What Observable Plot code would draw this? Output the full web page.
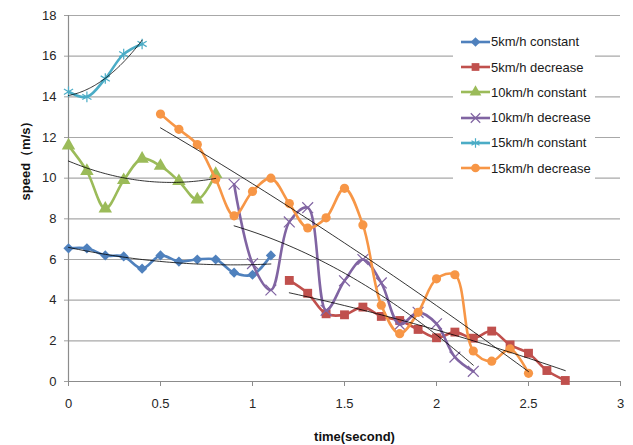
<!DOCTYPE html>
<html><head><meta charset="utf-8">
<script src="https://cdn.jsdelivr.net/npm/d3@7"></script>
<script src="https://cdn.jsdelivr.net/npm/@observablehq/plot@0.6"></script>
<style>
body{margin:0;background:#fff;}
#wrap{position:relative;width:633px;height:445px;font-family:"Liberation Sans",Arial,sans-serif;overflow:hidden;}
#legend{position:absolute;left:453px;top:26px;width:142px;height:157px;background:#fff;}
.row{position:absolute;left:0;height:20px;display:flex;align-items:center;font-size:13px;color:#1a1a1a;white-space:nowrap;}
.row svg{display:block;flex:none;}
</style></head><body><div id="wrap"><div id="legend"></div></div>
<script>
// ---- data ----
const seriesNames = ["5km/h constant","5km/h decrease","10km/h constant","10km/h decrease","15km/h constant","15km/h decrease"];
const seriesColors = ["#4F81BD","#C0504D","#9BBB59","#8064A2","#4BACC6","#F79646"];
const seriesSymbols = ["diamond2","square","triangle","times","asterisk","circle"];

const time5c  = [0,0.1,0.2,0.3,0.4,0.5,0.6,0.7,0.8,0.9,1.0,1.1];
const speed5c = [6.55,6.55,6.2,6.15,5.55,6.2,5.9,6.0,6.0,5.35,5.25,6.2];

const time5d  = [1.2,1.3,1.4,1.5,1.6,1.7,1.8,1.9,2.0,2.1,2.2,2.3,2.4,2.5,2.6,2.7];
const speed5d = [4.97,4.34,3.33,3.28,3.66,3.2,3.0,2.56,2.15,2.43,2.13,2.48,1.8,1.39,0.54,0.05];

const time10c  = [0,0.1,0.2,0.3,0.4,0.5,0.6,0.7,0.8];
const speed10c = [11.6,10.35,8.5,9.9,10.95,10.6,9.85,8.95,10.2];

const time10d  = [0.9,1.0,1.1,1.2,1.3,1.4,1.5,1.6,1.7,1.8,1.9,2.0,2.1,2.2];
const speed10d = [9.7,5.8,4.5,7.85,8.55,3.5,4.95,6.0,4.85,2.8,3.4,2.84,1.2,0.5];

const time15c  = [0,0.1,0.2,0.3,0.4];
const speed15c = [14.25,14.0,14.9,16.1,16.6];

const time15d  = [0.5,0.6,0.7,0.8,0.9,1.0,1.1,1.2,1.3,1.4,1.5,1.6,1.7,1.8,1.9,2.0,2.1,2.2,2.3,2.4,2.5];
const speed15d = [13.15,12.4,11.65,9.95,8.15,9.35,10.0,8.75,7.55,8.05,9.5,7.7,3.75,2.35,3.4,5.05,5.25,1.5,1.0,1.6,0.4];

const xTicks = [0,0.5,1,1.5,2,2.5,3];
const yTicks = [0,2,4,6,8,10,12,14,16,18];
const xLabel = "time(second)";
const yLabel = "speed（m/s）";

// ---- build tables ----
const times = [time5c,time5d,time10c,time10d,time15c,time15d];
const speeds = [speed5c,speed5d,speed10c,speed10d,speed15c,speed15d];
const tables = seriesNames.map((name,i)=>times[i].map((t,j)=>({series:name,t,v:speeds[i][j]})));

// quadratic least-squares trendline (like Excel's polynomial order 2)
function quadFit(xs, ys){
  const mx = d3.mean(xs);
  let s = [0,0,0,0,0], r = [0,0,0];
  xs.forEach((x,i)=>{const u=x-mx; let p=1; for(let k=0;k<5;k++){s[k]+=p; if(k<3) r[k]+=p*ys[i]; p*=u;}});
  const A = [[s[0],s[1],s[2]],[s[1],s[2],s[3]],[s[2],s[3],s[4]]];
  const det = m => m[0][0]*(m[1][1]*m[2][2]-m[1][2]*m[2][1]) - m[0][1]*(m[1][0]*m[2][2]-m[1][2]*m[2][0]) + m[0][2]*(m[1][0]*m[2][1]-m[1][1]*m[2][0]);
  const D = det(A);
  const c = [0,1,2].map(k=>det(A.map((row,i)=>row.map((v,j)=>j===k?r[i]:v)))/D);
  const [x0,x1] = d3.extent(xs);
  return d3.range(0,61).map(k=>{const x=x0+(x1-x0)*k/60, u=x-mx; return {t:x, v:c[0]+c[1]*u+c[2]*u*u};});
}
const trends = times.map((ts,i)=>quadFit(ts,speeds[i]));

const strokeSymbols = new Set(["times","asterisk"]);
const marks = [
  Plot.gridY(yTicks.filter(d=>d>0), {stroke:"#a8a8a8", strokeOpacity:1, strokeWidth:1.2}),
  Plot.axisY(yTicks, {tickSize:4, tickPadding:8, stroke:"#a0a0a0", fill:"#262626", fontSize:13, label:null}),
  Plot.axisX(xTicks, {tickSize:5, tickPadding:12, stroke:"#8c8c8c", fill:"#262626", fontSize:13, label:null, tickFormat: d=>String(d)}),
  Plot.ruleX([0], {stroke:"#8c8c8c", strokeWidth:1.2}),
  Plot.ruleY([0], {stroke:"#8c8c8c", strokeWidth:1.2}),
];
tables.forEach((tb,i)=>{
  marks.push(Plot.line(tb, {x:"t", y:"v", stroke:seriesColors[i], strokeWidth:2.6, curve:"catmull-rom"}));
  const sym = seriesSymbols[i];
  const r = sym==="square" ? 5 : sym==="triangle" ? 5 : 4.6;
  if (strokeSymbols.has(sym)) marks.push(Plot.dot(tb, {x:"t", y:"v", symbol:()=>sym, r:5, stroke:seriesColors[i], strokeWidth:1.2, fill:"none"}));
  else marks.push(Plot.dot(tb, {x:"t", y:"v", symbol:()=>sym, r, fill:seriesColors[i], stroke:"none"}));
});
trends.forEach(tr=>marks.push(Plot.line(tr, {x:"t", y:"v", stroke:"#000", strokeWidth:0.8})));
marks.push(Plot.text([xLabel], {frameAnchor:"bottom", dy:55, dx:10, fontWeight:"bold", fontSize:13, fill:"#111", lineAnchor:"middle"}));
marks.push(Plot.text([yLabel], {frameAnchor:"left", dx:-43, dy:2, rotate:-90, fontWeight:"bold", fontSize:13, fill:"#111", lineAnchor:"middle"}));

const chart = Plot.plot({
  width:633, height:445,
  marginLeft:68, marginRight:13, marginTop:15, marginBottom:64,
  x:{domain:[0,3]}, y:{domain:[0,18]},
  style:{fontFamily:"Liberation Sans, Arial, sans-serif", fontSize:"13px", background:"white", overflow:"visible"},
  marks
});
const wrap = document.getElementById("wrap");
wrap.insertBefore(chart, wrap.firstChild);

// ---- legend ----
const symMap = {diamond2:d3.symbolDiamond2, square:d3.symbolSquare, triangle:d3.symbolTriangle, times:d3.symbolTimes, asterisk:d3.symbolAsterisk, circle:d3.symbolCircle};
const legend = d3.select("#legend");
seriesNames.forEach((name,i)=>{
  const row = legend.append("div").attr("class","row").style("top",(5.7+25.3*i)+"px");
  const svg = row.append("svg").attr("width",38).attr("height",20);
  svg.append("line").attr("x1",8).attr("x2",37).attr("y1",10).attr("y2",10).attr("stroke",seriesColors[i]).attr("stroke-width",2.6);
  const sym = seriesSymbols[i];
  const p = svg.append("path").attr("transform","translate(22.5,10)").attr("d", d3.symbol(symMap[sym], 60)());
  if (strokeSymbols.has(sym)) p.attr("fill","none").attr("stroke",seriesColors[i]).attr("stroke-width",1.2);
  else p.attr("fill",seriesColors[i]);
  row.append("span").text(name);
});
</script></body></html>
